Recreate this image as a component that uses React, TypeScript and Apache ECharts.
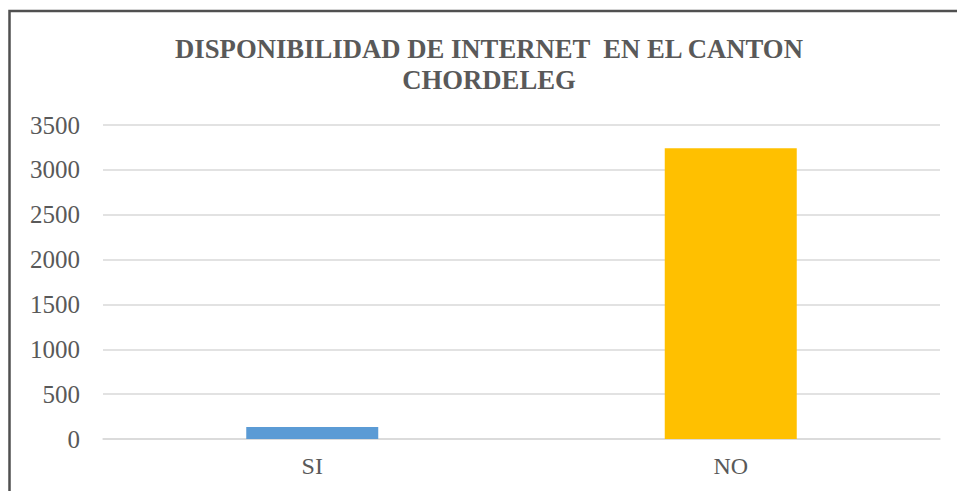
import React, { useEffect, useRef } from "react";
import * as echarts from "echarts";

const categories = ["SI", "NO"];
const values = [135, 3240];
const barColors = ["#5B9BD5", "#FFC000"];
const titleLines = ["DISPONIBILIDAD DE INTERNET  EN EL CANTON", "CHORDELEG"];

export default function App() {
  const ref = useRef<HTMLDivElement>(null);
  useEffect(() => {
    const chart = echarts.init(ref.current!, null, { renderer: "svg" });
    chart.setOption({
      animation: false,
      backgroundColor: "#ffffff",
      title: {
        text: titleLines.join("\n"),
        left: 484,
        textAlign: "center",
        top: 28,
        textStyle: {
          fontFamily: "Liberation Serif",
          fontWeight: "bold",
          fontSize: 26.7,
          lineHeight: 31,
          color: "#595959",
        },
      },
      graphic: [
        {
          type: "rect",
          shape: { x: 9.5, y: 11, width: 1100, height: 1000 },
          style: { fill: "none", stroke: "#505050", lineWidth: 2.5 },
          silent: true,
        },
      ],
      grid: { left: 103, right: 17, top: 125, bottom: 52, containLabel: false },
      xAxis: {
        type: "category",
        data: categories,
        axisLine: { show: true, lineStyle: { color: "#d9d9d9", width: 1.5 } },
        axisTick: { show: false },
        axisLabel: {
          margin: 15,
          fontFamily: "Liberation Serif",
          fontSize: 24,
          color: "#595959",
        },
      },
      yAxis: {
        type: "value",
        min: 0,
        max: 3500,
        interval: 500,
        axisLine: { show: false },
        axisTick: { show: false },
        splitLine: { lineStyle: { color: "#d9d9d9", width: 1.5 } },
        axisLabel: {
          margin: 23,
          fontFamily: "Liberation Serif",
          fontSize: 25,
          color: "#595959",
          formatter: (v: number) => String(v),
        },
      },
      series: [
        {
          type: "bar",
          barWidth: 132,
          data: values.map((v, i) => ({ value: v, itemStyle: { color: barColors[i] } })),
        },
      ],
    });
    return () => chart.dispose();
  }, []);
  return (
    <div
      ref={ref}
      style={{ position: "absolute", left: 0, top: 0, width: 957, height: 491 }}
    />
  );
}
